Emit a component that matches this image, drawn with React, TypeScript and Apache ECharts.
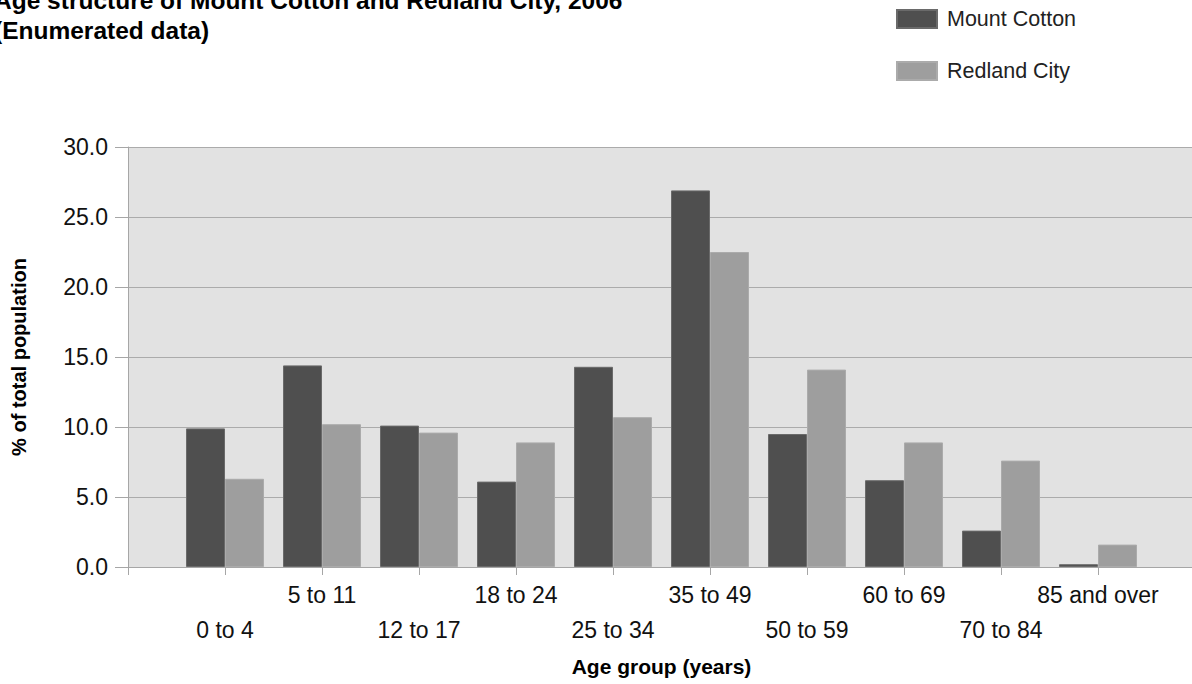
import React, { useEffect, useRef } from "react";
import * as echarts from "echarts";

const ageGroups = ["0 to 4", "5 to 11", "12 to 17", "18 to 24", "25 to 34", "35 to 49", "50 to 59", "60 to 69", "70 to 84", "85 and over"];
const mountCotton = [9.9, 14.4, 10.1, 6.1, 14.3, 26.9, 9.5, 6.2, 2.6, 0.2];
const redlandCity = [6.3, 10.2, 9.6, 8.9, 10.7, 22.5, 14.1, 8.9, 7.6, 1.6];
const seriesNames = ["Mount Cotton", "Redland City"];
const titleLines = ["Age structure of Mount Cotton and Redland City, 2006", "(Enumerated data)"];
const yAxisTitle = "% of total population";
const xAxisTitle = "Age group (years)";

const FONT = "'Liberation Sans', Arial, sans-serif";

export default function App() {
  const ref = useRef<HTMLDivElement>(null);
  useEffect(() => {
    if (!ref.current) return;
    const chart = echarts.init(ref.current, undefined, { renderer: "svg" });
    const cats = ["", ...ageGroups, ""];
    const pad = (a: number[]) => [null, ...a, null];
    chart.setOption({
      animation: false,
      backgroundColor: "#ffffff",
      textStyle: { fontFamily: FONT },
      graphic: [
        {
          type: "text",
          x: -6,
          y: 0,
          style: { text: titleLines[0], font: `bold 24.5px ${FONT}`, fill: "#000", verticalAlign: "middle" },
        },
        {
          type: "text",
          x: -6,
          y: 30,
          style: { text: titleLines[1], font: `bold 24.5px ${FONT}`, fill: "#000", verticalAlign: "middle" },
        },
      ],
      legend: {
        orient: "vertical",
        left: 896,
        top: 8,
        padding: 0,
        itemWidth: 40,
        itemHeight: 18,
        itemGap: 30,
        icon: "rect",
        data: seriesNames,
        textStyle: { fontSize: 21.5, lineHeight: 20, color: "#222", fontFamily: FONT, padding: [0, 0, 0, 5] },
      },
      grid: {
        left: 128,
        top: 147,
        width: 1067,
        height: 420,
        show: true,
        backgroundColor: "#e2e2e2",
        borderWidth: 0,
        outerBoundsMode: "none",
        containLabel: false,
      },
      xAxis: {
        type: "category",
        data: cats,
        boundaryGap: false,
        axisLine: { show: true, lineStyle: { color: "#a6a6a6", width: 1 } },
        axisTick: { show: true, length: 8, interval: 0, lineStyle: { color: "#a6a6a6" } },
        axisLabel: {
          interval: 0,
          fontSize: 23,
          color: "#111",
          fontFamily: FONT,
          lineHeight: 35,
          margin: 10,
          formatter: (v: string, i: number) => (i % 2 === 1 ? "\n" + v : v),
        },
        splitLine: { show: false },
        name: xAxisTitle,
        nameLocation: "middle",
        nameGap: 89,
        nameTextStyle: { fontSize: 21, fontWeight: "bold", color: "#000", fontFamily: FONT },
      },
      yAxis: {
        type: "value",
        min: 0,
        max: 30,
        interval: 5,
        axisLine: { show: true, lineStyle: { color: "#a6a6a6", width: 1 } },
        axisTick: { show: true, length: 13, lineStyle: { color: "#a6a6a6" } },
        axisLabel: {
          fontSize: 23,
          color: "#111",
          fontFamily: FONT,
          margin: 20,
          formatter: (v: number) => v.toFixed(1),
        },
        splitLine: { show: true, lineStyle: { color: "#ababab", width: 1 } },
        name: yAxisTitle,
        nameLocation: "middle",
        nameRotate: 90,
        nameGap: 99,
        nameTextStyle: { fontSize: 20, fontWeight: "bold", color: "#000", fontFamily: FONT },
      },
      series: [
        {
          name: seriesNames[0],
          type: "bar",
          data: pad(mountCotton),
          barWidth: 39,
          barGap: "0%",
          itemStyle: { color: "#4f4f4f", borderColor: "#6a6a6a", borderWidth: 1 },
        },
        {
          name: seriesNames[1],
          type: "bar",
          data: pad(redlandCity),
          barWidth: 39,
          barGap: "0%",
          itemStyle: { color: "#9e9e9e", borderColor: "#ababab", borderWidth: 1 },
        },
      ],
    });
    return () => chart.dispose();
  }, []);
  return (
    <div
      ref={ref}
      style={{ position: "fixed", left: 0, top: 0, width: 1192, height: 684 }}
    />
  );
}
